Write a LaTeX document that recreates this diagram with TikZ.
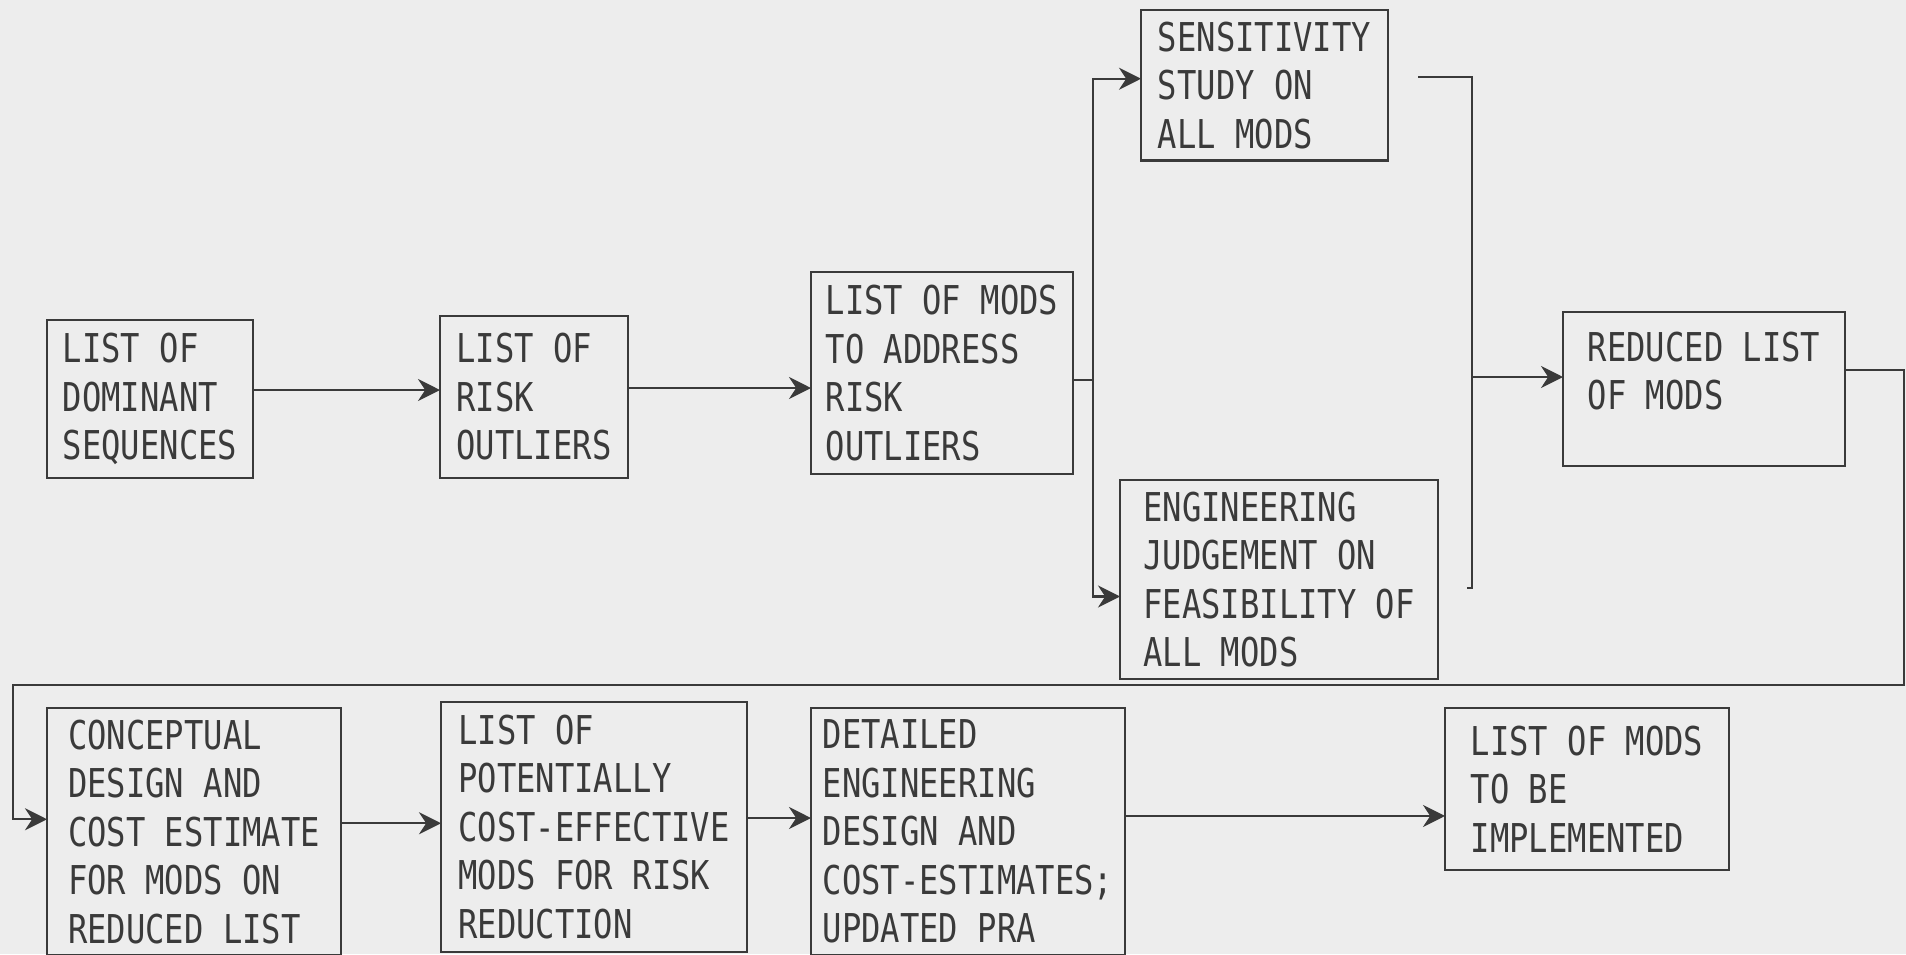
\documentclass[tikz,border=0pt]{standalone}
\usepackage{fontspec}
\usetikzlibrary{arrows.meta}
\newfontfamily\plotfont[FakeStretch=0.81]{DejaVu Sans Mono}
\definecolor{scanbg}{HTML}{EDEDED}
\definecolor{ink}{HTML}{3A3A3A}
\tikzset{
  modbox/.style={draw=ink,line width=0.7pt,anchor=north west,align=left,outer sep=0pt,
    text=ink,font=\plotfont\fontsize{11.3}{13.8}\selectfont},
  flow/.style={draw=ink,line width=0.7pt,-{Stealth[length=2.2mm,width=2.2mm]}},
  wire/.style={draw=ink,line width=0.7pt}
}
\begin{document}
\begin{tikzpicture}[x=0.1mm,y=-0.1mm]
\fill[scanbg] (0,0) rectangle (1906,954);
\useasboundingbox (0,0) rectangle (1906,954);
% upper row
\node[modbox,minimum width=20.6mm,minimum height=15.8mm] (dom) at (47,320) {LIST OF\\DOMINANT\\SEQUENCES};
\node[modbox,minimum width=18.8mm,minimum height=16.2mm] (risk) at (440,316) {LIST OF\\RISK\\OUTLIERS};
\node[modbox,minimum width=26.2mm,minimum height=20.2mm] (addr) at (811,272) {LIST OF MODS\\TO ADDRESS\\RISK\\OUTLIERS};
\node[modbox,minimum width=24.7mm,minimum height=14.9mm] (sens) at (1141,10) {SENSITIVITY\\STUDY ON\\ALL MODS};
\node[modbox,minimum width=31.8mm,minimum height=19.5mm] (eng) at (1120,480) {ENGINEERING\\JUDGEMENT ON\\FEASIBILITY OF\\ALL MODS};
\node[modbox,minimum width=28.2mm,minimum height=15.4mm] (red) at (1563,312) {REDUCED LIST\\OF MODS\\[-3.4pt]\mbox{}};
% lower row
\node[modbox,minimum width=29.4mm,minimum height=24.3mm] (conc) at (47,708) {CONCEPTUAL\\DESIGN AND\\COST ESTIMATE\\FOR MODS ON\\REDUCED LIST};
\node[modbox,minimum width=30.6mm,minimum height=25mm] (pot) at (441,702) {LIST OF\\POTENTIALLY\\COST-EFFECTIVE\\MODS FOR RISK\\REDUCTION};
\node[modbox,minimum width=31mm,minimum height=24.1mm] (det) at (811,708) {DETAILED\\ENGINEERING\\DESIGN AND\\COST-ESTIMATES;\\UPDATED PRA};
\node[modbox,minimum width=28.4mm,minimum height=16.2mm] (impl) at (1445,708) {LIST OF MODS\\TO BE\\IMPLEMENTED};

\draw[flow] ([yshift=0.9mm]dom.east) -- ([yshift=0.9mm]dom.east -| risk.west);
\draw[flow] ([yshift=0.9mm]risk.east) -- ([yshift=0.9mm]risk.east -| addr.west);
% split to the two studies
\draw[wire] ([yshift=-0.7mm]addr.east) -- ++(20,0) coordinate (split);
\draw[flow] (split) |- ([yshift=0.65mm]sens.west);
\draw[flow] (split) |- ([yshift=-1.7mm]eng.west);
% join
\draw[wire,shorten <=3mm] ([yshift=0.85mm]sens.east) -| (1472,588) -- ++(-5,0);
\coordinate (join) at (1472,377);
\draw[flow] (join) -- (join -| red.west);
% back to the lower row
\coordinate (back) at (13,685);
\draw[flow] ([yshift=1.9mm]red.east) -| (1904,685) -- (back) |- ([yshift=1.25mm]conc.west);
\draw[flow] ([yshift=0.85mm]conc.east) -- ([yshift=0.85mm]conc.east -| pot.west);
\draw[flow] ([yshift=0.9mm]pot.east) -- ([yshift=0.9mm]pot.east -| det.west);
\draw[flow] ([yshift=1.55mm]det.east) -- ([yshift=1.55mm]det.east -| impl.west);
\end{tikzpicture}
\end{document}
